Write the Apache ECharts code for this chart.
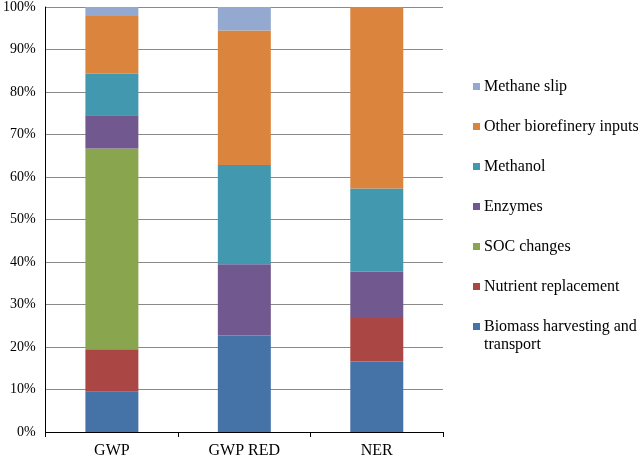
<!DOCTYPE html>
<html>
<head>
<meta charset="utf-8">
<script src="https://cdn.jsdelivr.net/npm/echarts@6/dist/echarts.min.js"></script>
<style>html,body{margin:0;padding:0;background:#fff}#c{width:638px;height:461px}</style>
</head>
<body>
<div id="c"></div>
<script>
const categories = ['GWP', 'GWP RED', 'NER'];
const yTicks = ['0%','10%','20%','30%','40%','50%','60%','70%','80%','90%','100%'];
const biomass = [9.5, 22.7, 16.6];
const nutrient = [10.0, 0, 10.2];
const soc = [47.2, 0, 0];
const enzymes = [7.8, 16.8, 10.9];
const methanol = [9.8, 23.3, 19.6];
const otherInputs = [13.6, 31.7, 42.7];
const methaneSlip = [2.1, 5.5, 0];

const seriesDefs = [
  ['Biomass harvesting and transport', biomass, '#4572A7'],
  ['Nutrient replacement', nutrient, '#AA4643'],
  ['SOC changes', soc, '#89A54E'],
  ['Enzymes', enzymes, '#71588F'],
  ['Methanol', methanol, '#4198AF'],
  ['Other biorefinery inputs', otherInputs, '#DB843D'],
  ['Methane slip', methaneSlip, '#93A9CF']
];

const chart = echarts.init(document.getElementById('c'));
const font = 'Liberation Serif, Times New Roman, serif';
chart.setOption({
  animation: false,
  grid: { left: 43, right: 195, top: 7, bottom: 29 },
  legend: {
    orient: 'vertical',
    left: 473,
    top: 77,
    padding: 0,
    itemWidth: 7,
    itemHeight: 7,
    itemGap: 21,
    icon: 'rect',
    data: seriesDefs.map(s => s[0]).reverse(),
    formatter: function (n) { return n === 'Biomass harvesting and transport' ? 'Biomass harvesting and' : n; },
    textStyle: { fontFamily: font, fontSize: 16, color: '#000', lineHeight: 19, padding: [0, 0, 0, -1] }
  },
  graphic: [{
    type: 'text', left: 484, top: 337,
    style: { text: 'transport', font: '16px ' + font, fill: '#000' }
  }],
  xAxis: {
    type: 'category',
    data: categories,
    axisLine: { lineStyle: { color: '#000', width: 1 } },
    axisTick: { show: true, length: 5, lineStyle: { color: '#000' } },
    axisLabel: { fontFamily: font, fontSize: 16, color: '#000', margin: 11 }
  },
  yAxis: {
    type: 'value',
    min: 0,
    max: 100,
    interval: 10,
    axisLine: { show: true, lineStyle: { color: '#000', width: 1 } },
    axisTick: { show: false },
    splitLine: { lineStyle: { color: '#8a8a8a', width: 1.2 } },
    axisLabel: {
      fontFamily: font, fontSize: 14, color: '#000', margin: 10,
      formatter: function (v) { return yTicks[Math.round(v / 10)]; }
    }
  },
  series: seriesDefs.map(s => ({
    name: s[0],
    type: 'bar',
    stack: 'total',
    barWidth: '40%',
    data: s[1],
    itemStyle: { color: s[2] }
  }))
});
</script>
</body>
</html>
